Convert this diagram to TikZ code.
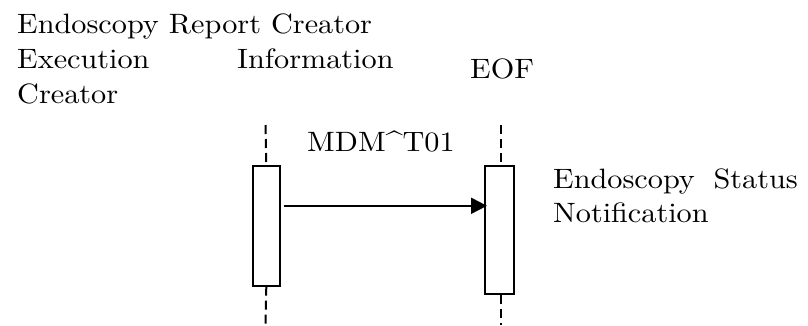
\documentclass[tikz,border=0pt]{standalone}
\usepackage{fontspec}
\setmainfont{lmroman10-regular.otf}[FakeStretch=1.08]
\usetikzlibrary{arrows.meta}
\begin{document}
\begin{tikzpicture}[x=1pt,y=-1pt,
  txt/.style={anchor=base west,inner sep=0pt,font=\fontsize{28}{34}\selectfont},
  txtr/.style={anchor=base east,inner sep=0pt,font=\fontsize{28}{34}\selectfont},
  actbox/.style={draw,line width=1.6pt,fill=white,inner sep=0pt,anchor=north west},
  life/.style={line width=2pt,dash pattern=on 9pt off 5pt},
  msg/.style={line width=2pt,-{Triangle[length=16pt,width=16pt]},shorten <=3pt,shorten >=-3pt}]
\useasboundingbox (0,0) rectangle (808,325);
% headers
\node[txt] (h1) at (17,33) {Endoscopy Report Creator};
\node[txt] (h2) at (17,68) {Execution};
\node[txt] (h3) at (237,68) {Information};
\node[txt] (h4) at (17,103) {Creator};
\node[txt] (eof) at (470,78) {EOF};
% lifeline ends
\coordinate (lt) at (265.5,125);
\coordinate (lb) at (265.5,325);
\coordinate (rt) at (501,125);
\coordinate (rb) at (501,325);
% activation boxes
\node[actbox,minimum width=27pt,minimum height=120pt] (lbox) at (252,165) {};
\node[actbox,minimum width=29pt,minimum height=128pt] (rbox) at (484,165) {};
% lifelines
\draw[life] (lt) -- (lbox.north);
\draw[life] (lbox.south) -- (lb);
\draw[life] (rt) -- (rt |- rbox.north);
\draw[life] (rt |- rbox.south) -- (rb);
% message
\draw[msg] ([yshift=20pt]lbox.east) -- ([yshift=20pt]lbox.east -| rbox.west);
\node[txt] (m) at (307,151) {MDM\textasciicircum T01};
% note
\node[txt] (n1) at (553,188) {Endoscopy};
\node[txtr] (n2) at (798,188) {Status};
\node[txt] (n3) at (553,222) {Notification};
\end{tikzpicture}
\end{document}
